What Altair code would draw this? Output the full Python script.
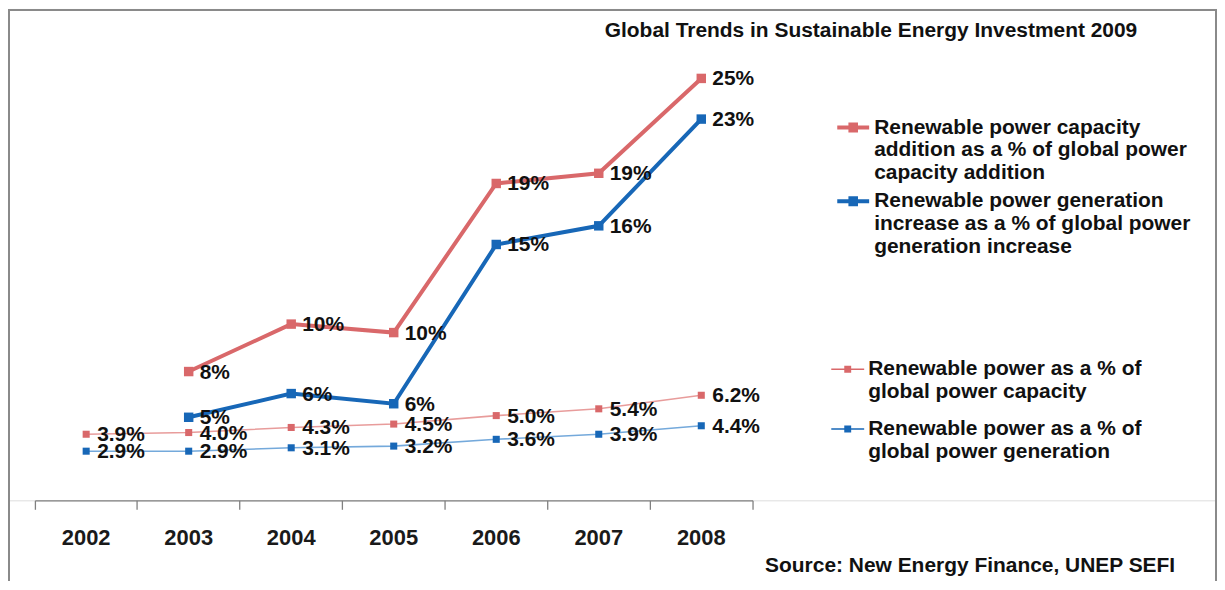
import altair as alt
import pandas as pd

# ---------------- data ----------------
years = ["2002", "2003", "2004", "2005", "2006", "2007", "2008"]
cap_addition = [None, 7.6, 10.4, 9.9, 18.7, 19.3, 24.9]
gen_increase = [None, 4.9, 6.3, 5.7, 15.1, 16.2, 22.5]
cap_share = [3.9, 4.0, 4.3, 4.5, 5.0, 5.4, 6.2]
gen_share = [2.9, 2.9, 3.1, 3.2, 3.6, 3.9, 4.4]

thick_names = [
    "Renewable power capacity\naddition as a % of global power\ncapacity addition",
    "Renewable power generation\nincrease as a % of global power\ngeneration increase",
]
thin_names = [
    "Renewable power as a % of\nglobal power capacity",
    "Renewable power as a % of\nglobal power generation",
]
title_text = "Global Trends in Sustainable Energy Investment 2009"
source_text = "Source: New Energy Finance, UNEP SEFI"

RED = "#D9686A"
BLUE = "#1767B7"
RED_L = "#E89C9B"
BLUE_L = "#74A9DB"
FONT = "Liberation Sans"


def long(names, series_list):
    rows = []
    for name, vals in zip(names, series_list):
        for yr, v in zip(years, vals):
            if v is not None:
                rows.append({"year": yr, "value": v, "series": name})
    return pd.DataFrame(rows)


thick_df = long(thick_names, [cap_addition, gen_increase])
thin_df = long(thin_names, [cap_share, gen_share])

x_enc = alt.X(
    "year:O",
    scale=alt.Scale(type="band", domain=years, range=[27, 747], paddingInner=0, paddingOuter=0),
    axis=alt.Axis(
        title=None, grid=False, labelAngle=0, bandPosition=1, tickExtra=True,
        labelOffset=0, tickSize=9, tickColor="#808080", domainColor="#808080",
        domainWidth=1.3, tickWidth=1.3, labelFont=FONT, labelFontWeight="bold",
        labelFontSize=22, labelColor="#1a1a1a", labelPadding=18,
    ),
)
y_enc = alt.Y("value:Q", scale=alt.Scale(domain=[0, 25], range=[493, 68], nice=False, zero=False), axis=None)

# stroke-drawn legend glyph: line + square (square built from overlapping strokes)
thick_path = "M-1,0H1 M-0.3,-0.19H0.3 M-0.3,0H0.3 M-0.3,0.19H0.3"
# fill-drawn legend glyph: thin bar + square
thin_path = "M-1,-0.045H1V0.045H-1Z M-0.21,-0.21H0.21V0.21H-0.21Z"

thick_legend = alt.Legend(
    title=None, orient="none", legendX=830, legendY=101, direction="vertical",
    symbolType=thick_path, symbolSize=1024, symbolStrokeWidth=4, symbolOpacity=1,
    labelFont=FONT, labelFontWeight="bold", labelFontSize=21, labelColor="#111",
    labelLimit=500, labelOffset=3, rowPadding=0, padding=0,
    labelExpr="split(datum.label, '\\n')",
)
thin_legend = alt.Legend(
    title=None, orient="none", legendX=826, legendY=345, direction="vertical",
    symbolType=thin_path, symbolSize=1089, symbolStrokeWidth=0, symbolOpacity=1,
    labelFont=FONT, labelFontWeight="bold", labelFontSize=21, labelColor="#111",
    labelLimit=500, labelOffset=4, rowPadding=10, padding=0,
    labelExpr="split(datum.label, '\\n')",
)

thin_lines = alt.Chart(thin_df).mark_line(strokeWidth=1.6).encode(
    x=x_enc, y=y_enc,
    stroke=alt.Stroke("series:N", scale=alt.Scale(domain=thin_names, range=[RED_L, BLUE_L]), legend=None),
    detail="series:N",
)
thin_points = alt.Chart(thin_df).mark_point(shape="square", filled=True, size=50, opacity=1).encode(
    x=x_enc, y=y_enc,
    color=alt.Color("series:N", scale=alt.Scale(domain=thin_names, range=[RED, BLUE]), legend=thin_legend),
)
thin_group = alt.layer(thin_lines, thin_points)

thin_text = alt.Chart(thin_df).transform_calculate(
    label="format(datum.value, '.1f') + '%'"
).mark_text(align="left", baseline="middle", dx=11, dy=1, font=FONT, fontWeight="bold", fontSize=21, color="#111").encode(
    x=x_enc, y=y_enc, text="label:N"
)

thick_lines = alt.Chart(thick_df).mark_line(
    strokeWidth=4,
    point=alt.OverlayMarkDef(shape="square", filled=True, size=90, opacity=1),
).encode(
    x=x_enc, y=y_enc,
    color=alt.Color("series:N", scale=alt.Scale(domain=thick_names, range=[RED, BLUE]), legend=thick_legend),
)
thick_text = alt.Chart(thick_df).transform_calculate(
    label="format(datum.value, '.0f') + '%'"
).mark_text(align="left", baseline="middle", dx=11, dy=1, font=FONT, fontWeight="bold", fontSize=21, color="#111").encode(
    x=x_enc, y=y_enc, text="label:N"
)

title_layer = alt.Chart(pd.DataFrame({"t": [title_text]})).mark_text(
    align="right", baseline="middle", font=FONT, fontWeight="bold", fontSize=21, color="#111"
).encode(x=alt.value(1133), y=alt.value(22), text="t:N")

source_layer = alt.Chart(pd.DataFrame({"t": [source_text]})).mark_text(
    align="right", baseline="middle", font=FONT, fontWeight="bold", fontSize=21, color="#111"
).encode(x=alt.value(1171), y=alt.value(559), text="t:N")

frame = alt.Chart(pd.DataFrame({"t": [0]})).mark_rule(color="#8a8a8a", strokeWidth=2)
frame_left = frame.encode(x=alt.value(1), y=alt.value(0), y2=alt.value(574))
frame_top = frame.encode(x=alt.value(0), x2=alt.value(1213), y=alt.value(1))
frame_right = frame.encode(x=alt.value(1212), y=alt.value(0), y2=alt.value(574))

chart = alt.layer(
    frame_left, frame_top, frame_right,
    thin_group, thick_lines, thin_text, thick_text,
    title_layer, source_layer,
).resolve_scale(color="independent").properties(
    width=1213, height=493,
    padding={"left": 0, "top": 0, "right": 0, "bottom": 81},
    autosize=alt.AutoSizeParams(type="none"),
).configure_view(stroke=None).configure(background="white")

chart.save("out.html", embed_options={"renderer": "svg", "actions": False})
